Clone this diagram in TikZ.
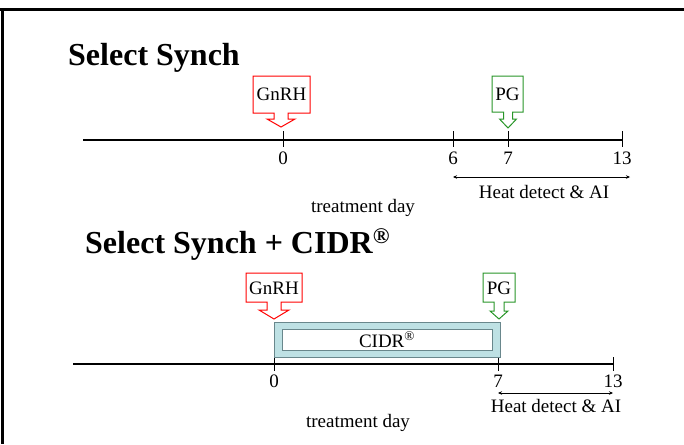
\documentclass[tikz,border=0pt]{standalone}
\usepackage{fontspec}
\setmainfont{Liberation Serif}
\usetikzlibrary{arrows.meta}
\definecolor{calred}{RGB}{255,0,0}
\definecolor{calgreen}{RGB}{40,150,40}
\definecolor{cidrfill}{RGB}{190,225,228}
\definecolor{cidrline}{RGB}{105,135,140}
\tikzset{
  title/.style={font=\fontsize{32}{36}\selectfont\bfseries, anchor=base west, inner sep=0pt},
  lbl/.style={font=\fontsize{19}{22}\selectfont, anchor=base, inner sep=0pt},
  axis/.style={line width=2pt},
  tick/.style={line width=1pt},
  span/.style={line width=0.8pt, {Stealth[length=4pt,width=3.5pt]}-{Stealth[length=4pt,width=3.5pt]}},
  redcall/.style={draw=calred, line width=1pt, fill=white},
  greencall/.style={draw=calgreen, line width=1pt, fill=white},
}
\begin{document}
\begin{tikzpicture}[x=1pt,y=-1pt]
\useasboundingbox (0,0) rectangle (684,444);
\fill[white] (0,0) rectangle (684,444);
% frame
\draw[line width=3pt] (0,10) -- (684,10);
\draw[line width=3pt] (2.5,8.5) -- (2.5,444);

% ===== Panel 1 =====
\node[title] (t1) at (68,65) {Select Synch};
\coordinate (a1s) at (83,140);
\coordinate (a1e) at (622,140);
\draw[axis] (a1s) -- (a1e);
\foreach \x/\n in {283/0,453/6,508/7,622/13}{
  \draw[tick] (\x,131) -- (\x,147);
  \node[lbl] (n1-\n) at (\x,164) {\n};
}
\coordinate (h1s) at (453,177);
\coordinate (h1e) at (630,177);
\draw[span] (h1s) -- (h1e);
\node[lbl] (hd1) at (544,198) {Heat detect \& AI};
\node[lbl] (td1) at (363,212) {treatment day};

% GnRH callout 1
\draw[redcall] (253,76) -- (310,76) -- (310,113) -- (288,113) -- (288,119) -- (295,119)
  -- (281,127) -- (267,119) -- (274,119) -- (274,113) -- (253,113) -- cycle;
\node[lbl] (g1) at (281.5,100) {GnRH};
% PG callout 1
\draw[greencall] (492,76) -- (523,76) -- (523,112) -- (512.5,112) -- (512.5,119) -- (516.5,119)
  -- (508,128) -- (499.5,119) -- (503.5,119) -- (503.5,112) -- (492,112) -- cycle;
\node[lbl] (p1) at (507.5,100) {PG};

% ===== Panel 2 =====
\node[title] (t2) at (85,253) {Select Synch + CIDR\textsuperscript{®}};
\coordinate (a2s) at (73,364);
\coordinate (a2e) at (613,364);
\draw[axis] (a2s) -- (a2e);
\foreach \x/\n in {274/0,498/7,613/13}{
  \draw[tick] (\x,357) -- (\x,371);
  \node[lbl] (n2-\n) at (\x,387) {\n};
}
\coordinate (h2s) at (498,393);
\coordinate (h2e) at (613,393);
\draw[span] (h2s) -- (h2e);
\node[lbl] (hd2) at (556,412) {Heat detect \& AI};
\node[lbl] (td2) at (358,427) {treatment day};

% CIDR bar
\draw[fill=cidrfill, draw=cidrline, line width=1pt] (274,322) rectangle (500,357);
\draw[fill=white, draw=cidrline, line width=0.8pt] (282,329) rectangle (492,350);
\node[lbl] (cidr) at (387,347) {CIDR\textsuperscript{®}};

% GnRH callout 2
\draw[redcall] (246,273) -- (302,273) -- (302,302) -- (281,302) -- (281,310) -- (289,310)
  -- (274,319) -- (259,310) -- (267,310) -- (267,302) -- (246,302) -- cycle;
\node[lbl] (g2) at (274,294) {GnRH};
% PG callout 2
\draw[greencall] (483,273) -- (515,273) -- (515,302) -- (504,302) -- (504,311) -- (508,311)
  -- (499,319) -- (490,311) -- (494,311) -- (494,302) -- (483,302) -- cycle;
\node[lbl] (p2) at (499,294) {PG};
\end{tikzpicture}
\end{document}
